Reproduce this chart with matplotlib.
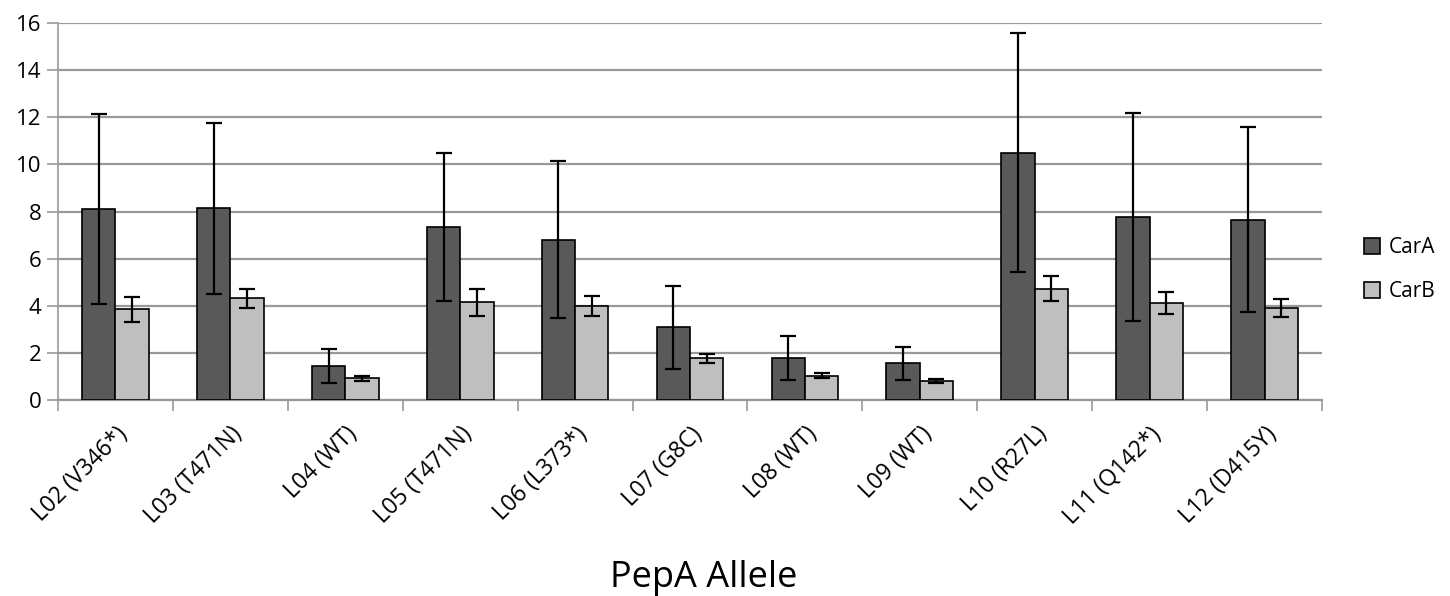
import matplotlib
matplotlib.use("Agg")
import matplotlib.pyplot as plt
import numpy as np

# data
alleles = ["L02 (V346*)", "L03 (T471N)", "L04 (WT)", "L05 (T471N)", "L06 (L373*)",
           "L07 (G8C)", "L08 (WT)", "L09 (WT)", "L10 (R27L)", "L11 (Q142*)", "L12 (D415Y)"]
car_a = [8.10, 8.13, 1.44, 7.34, 6.81, 3.08, 1.77, 1.56, 10.50, 7.75, 7.65]
car_a_err = [4.03, 3.63, 0.72, 3.13, 3.32, 1.75, 0.94, 0.69, 5.08, 4.41, 3.93]
car_b = [3.85, 4.31, 0.92, 4.14, 3.99, 1.77, 1.03, 0.82, 4.72, 4.10, 3.90]
car_b_err = [0.53, 0.41, 0.11, 0.58, 0.42, 0.20, 0.10, 0.08, 0.53, 0.47, 0.37]

plt.rcParams['font.family'] = ['Open Sans', 'DejaVu Sans']

fig = plt.figure(figsize=(14.5, 5.96), dpi=100)
ax = fig.add_axes([58/1450, 1 - 400/596, (1322-58)/1450, (400-23)/596])

x = np.arange(len(alleles))
w = 0.29
err_kw = dict(ecolor='black', elinewidth=1.6, capsize=6, capthick=1.6)
ax.bar(x - w/2, car_a, w, yerr=car_a_err, color='#595959', edgecolor='black',
       linewidth=1.2, error_kw=err_kw, label='CarA', zorder=3)
ax.bar(x + w/2, car_b, w, yerr=car_b_err, color='#bfbfbf', edgecolor='black',
       linewidth=1.2, error_kw=err_kw, label='CarB', zorder=3)

ax.set_xlim(-0.5, len(alleles) - 0.5)
ax.set_ylim(0, 16)
ax.set_yticks(range(0, 17, 2))
ax.yaxis.grid(True, color='#999999', linewidth=1.6, zorder=0)
ax.set_axisbelow(True)

for s in ['top', 'right']:
    ax.spines[s].set_visible(False)
ax.spines['left'].set_color('#999999')
ax.spines['left'].set_linewidth(1.2)
ax.spines['bottom'].set_color('#999999')
ax.spines['bottom'].set_linewidth(1.6)

# category boundary ticks on x, labels at centers
ax.set_xticks(np.arange(-0.5, len(alleles)), minor=False)
ax.set_xticklabels([])
ax.set_xticks(x, minor=True)
ax.set_xticklabels(alleles, minor=True, rotation=45, ha='right',
                   rotation_mode='anchor', fontsize=16.5)
ax.tick_params(axis='x', which='major', length=8, color='#999999', width=1.2)
ax.tick_params(axis='x', which='minor', length=0, pad=16)
ax.tick_params(axis='y', length=8, color='#999999', width=1.2, labelsize=16, pad=4)

fig.text(704 / 1450, 1 - 578/596, 'PepA Allele', ha='center',
         va='center', fontsize=26)

ax.legend(loc='center left', bbox_to_anchor=(1.018, 0.345), frameon=False,
          fontsize=15, handlelength=0.8, handleheight=0.8, handletextpad=0.4,
          labelspacing=1.1)

fig.savefig('out.png', dpi=100)
